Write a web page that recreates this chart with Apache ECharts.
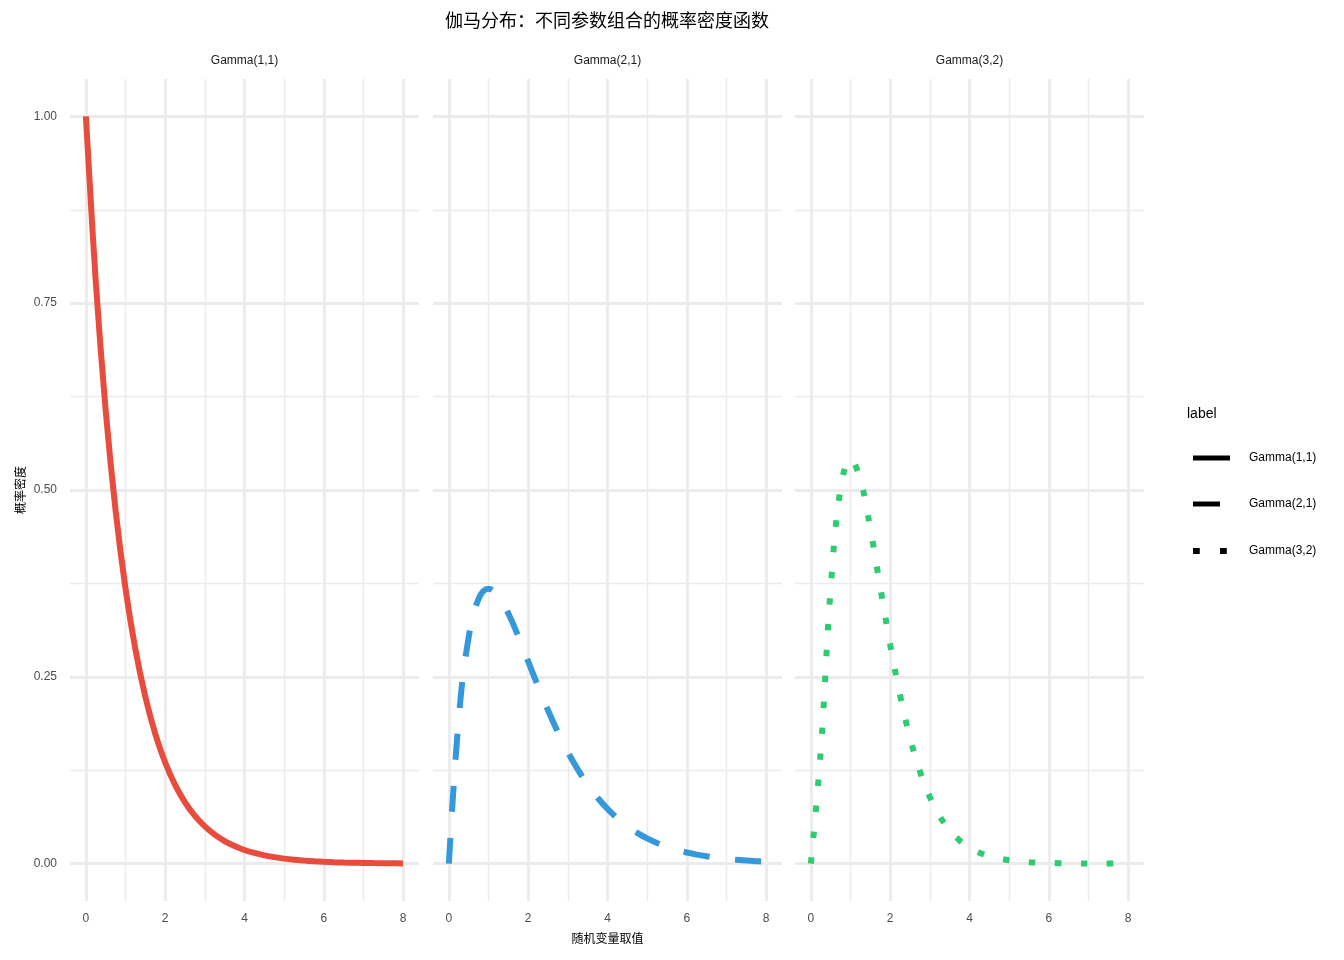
<!DOCTYPE html>
<html>
<head>
<meta charset="utf-8">
<script src="https://cdn.jsdelivr.net/npm/echarts@6/dist/echarts.min.js"></script>
<style>
html, body { margin: 0; padding: 0; background: #fff; }
#main { width: 1344px; height: 960px; }
</style>
</head>
<body>
<div id="main"></div>
<script>
var chartTitle = '伽马分布：不同参数组合的概率密度函数';
var panelNames = ['Gamma(1,1)', 'Gamma(2,1)', 'Gamma(3,2)'];
var xName = '随机变量取值';
var yName = '概率密度';
var legendTitle = 'label';
var seriesColors = ['#E74C3C', '#3498DB', '#2ECC71'];

// x values
var xValues = [0, 0.25, 0.5, 0.75, 1, 1.25, 1.5, 1.75, 2, 2.25, 2.5, 2.75, 3, 3.25, 3.5, 3.75,
    4, 4.25, 4.5, 4.75, 5, 5.25, 5.5, 5.75, 6, 6.25, 6.5, 6.75, 7, 7.25, 7.5, 7.75, 8];
var gamma11 = [1, 0.7788, 0.6065, 0.4724, 0.3679, 0.2865, 0.2231, 0.1738, 0.1353, 0.1054, 0.0821,
    0.0639, 0.0498, 0.0388, 0.0302, 0.0235, 0.0183, 0.0143, 0.0111, 0.0087, 0.0067, 0.0052,
    0.0041, 0.0032, 0.0025, 0.0019, 0.0015, 0.0012, 0.0009, 0.0007, 0.0006, 0.0004, 0.0003];
var gamma21 = [0, 0.1947, 0.3033, 0.3543, 0.3679, 0.3581, 0.3347, 0.3041, 0.2707, 0.2371, 0.2052,
    0.1758, 0.1494, 0.1261, 0.1057, 0.0882, 0.0733, 0.0607, 0.0500, 0.0412, 0.0337, 0.0276,
    0.0225, 0.0182, 0.0149, 0.0121, 0.0098, 0.0079, 0.0064, 0.0052, 0.0041, 0.0033, 0.0027];
var gamma32 = [0, 0.1516, 0.3679, 0.5020, 0.5413, 0.5131, 0.4481, 0.3699, 0.2931, 0.2250, 0.1684,
    0.1236, 0.0892, 0.0635, 0.0447, 0.0311, 0.0215, 0.0147, 0.0100, 0.0068, 0.0045, 0.0030,
    0.0020, 0.0013, 0.0009, 0.0006, 0.0004, 0.0003, 0.0002, 0.0001, 0.0001, 0.0001, 0];
var curves = [gamma11, gamma21, gamma32];
var dashes = ['solid', [26, 26], [6.5, 19.5]];

var panelLeft = [70, 433, 795];
var panelWidth = 349;
var gridColor = '#ebebeb';
var fontFamily = 'Liberation Sans, Arial, sans-serif';

function pairs(xs, ys) {
    var res = [];
    for (var i = 0; i < xs.length; i++) res.push([xs[i], ys[i]]);
    return res;
}

// 45 ticks per axis, every 10th one is a major line, offset by 5 the minor line
function lineColors(slot) {
    var c = [];
    for (var i = 0; i < 10; i++) c.push(i === slot ? gridColor : 'rgba(0,0,0,0)');
    return c;
}

var grids = [], xAxes = [], yAxes = [], series = [];
for (var p = 0; p < 3; p++) {
    grids.push({left: panelLeft[p], width: panelWidth, top: 79, bottom: 59});
    [2, 7].forEach(function(slot, k) {
        xAxes.push({
            type: 'value', gridIndex: p, min: -0.4, max: 8.4, interval: 0.2,
            position: 'bottom',
            axisLine: {show: false}, axisTick: {show: false},
            axisLabel: {
                show: k === 0, margin: 12, color: '#4d4d4d', fontSize: 12, fontFamily: fontFamily,
                formatter: function(v) {
                    var r = Math.round(v);
                    return (Math.abs(v - r) < 1e-6 && r % 2 === 0) ? String(r) : '';
                }
            },
            splitLine: {show: true, lineStyle: {color: lineColors(slot), width: k === 0 ? 2.8 : 1.4}},
            name: (p === 1 && k === 0) ? xName : '',
            nameLocation: 'middle', nameGap: 31,
            nameTextStyle: {color: '#000', fontSize: 12, fontFamily: 'Noto Sans CJK SC'}
        });
        yAxes.push({
            type: 'value', gridIndex: p, min: -0.05, max: 1.05, interval: 0.025,
            position: 'left',
            axisLine: {show: false}, axisTick: {show: false},
            axisLabel: {
                show: p === 0 && k === 0, margin: 13, color: '#4d4d4d', fontSize: 12, fontFamily: fontFamily,
                formatter: function(v) {
                    var q = Math.round(v * 4);
                    return Math.abs(v * 4 - q) < 1e-6 ? (q / 4).toFixed(2) : '';
                }
            },
            splitLine: {show: true, lineStyle: {color: lineColors(slot), width: k === 0 ? 2.8 : 1.4}},
            name: (p === 0 && k === 0) ? yName : '',
            nameLocation: 'middle', nameGap: 44, nameRotate: 90,
            nameTextStyle: {color: '#000', fontSize: 12, fontFamily: 'Noto Sans CJK SC'}
        });
    });
    series.push({
        name: panelNames[p],
        type: 'line',
        xAxisIndex: p * 2,
        yAxisIndex: p * 2,
        data: pairs(xValues, curves[p]),
        smooth: 0.4,
        symbol: 'none',
        itemStyle: {color: seriesColors[p]},
        lineStyle: {color: seriesColors[p], width: 6, type: dashes[p], cap: 'butt'}
    });
}

var graphics = [{
    type: 'text', x: 607, y: 20,
    style: {text: chartTitle, fill: '#000', font: '18px "Noto Sans CJK SC"', textAlign: 'center', textVerticalAlign: 'middle'}
}, {
    type: 'text', x: 1187, y: 414,
    style: {text: legendTitle, fill: '#000', font: '14px ' + fontFamily, textAlign: 'left', textVerticalAlign: 'middle'}
}];
for (var p = 0; p < 3; p++) {
    graphics.push({
        type: 'text', x: panelLeft[p] + panelWidth / 2, y: 61,
        style: {text: panelNames[p], fill: '#1a1a1a', font: '12px ' + fontFamily, textAlign: 'center', textVerticalAlign: 'middle'}
    });
}

// legend keys (linetype only, drawn in black)
var legendY = [458, 504, 551];
for (var p = 0; p < 3; p++) {
    graphics.push({
        type: 'line',
        shape: {x1: 1193, y1: legendY[p], x2: 1230, y2: legendY[p]},
        style: {stroke: '#000', lineWidth: p === 2 ? 6 : 5, lineDash: p === 0 ? null : dashes[p].map(function(d) { return d * 1.04; }), lineCap: 'butt'}
    });
    graphics.push({
        type: 'text', x: 1249, y: legendY[p],
        style: {text: panelNames[p], fill: '#000', font: '12px ' + fontFamily, textAlign: 'left', textVerticalAlign: 'middle'}
    });
}

var myChart = echarts.init(document.getElementById('main'));
var option = {
    backgroundColor: '#fff',
    animation: false,
    grid: grids,
    xAxis: xAxes,
    yAxis: yAxes,
    graphic: graphics,
    series: series
};
myChart.setOption(option);
</script>
</body>
</html>
